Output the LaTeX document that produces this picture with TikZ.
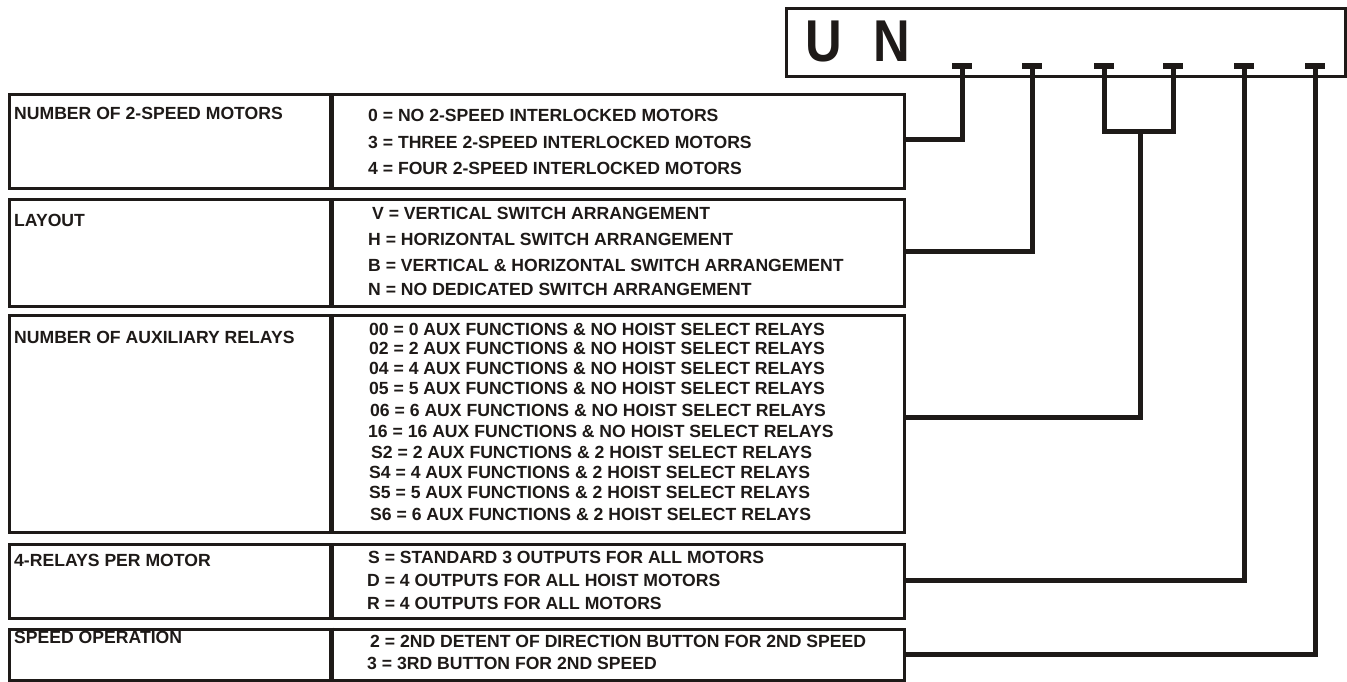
\documentclass[tikz,border=0pt]{standalone}
\usepackage{fontspec}
\setmainfont{Liberation Sans}
\usetikzlibrary{calc}
\definecolor{ink}{HTML}{1E1A18}
\begin{document}
\begin{tikzpicture}[x=1pt,y=-1pt,
  catbox/.style={draw=ink, line width=3pt, minimum width=895pt, inner sep=0pt, anchor=north west},
  divider/.style={draw=ink, line width=5pt},
  conn/.style={draw=ink, line width=5pt, line join=miter},
  tbar/.style={draw=ink, line width=6pt},
  lbl/.style={anchor=west, inner sep=0pt, text height=12.6pt, text depth=0pt, font=\fontsize{17.6}{20}\selectfont\bfseries, text=ink},
  hdrtext/.style={anchor=west, inner sep=0pt, text height=42pt, text depth=0pt, font=\fontsize{59}{60}\selectfont\bfseries, text=ink}
]
\useasboundingbox[fill=white] (0,0) rectangle (1347,681);

% header
\node[draw=ink, line width=3pt, minimum width=559pt, minimum height=68pt, inner sep=0pt, anchor=north west] (hdr) at (785,7) {};
\node[hdrtext] (code) at (805,40) {\scalebox{0.86}[1]{U\hspace{37pt}N}};

% terminals
\coordinate (t1) at (962,66);
\coordinate (t2) at (1032,66);
\coordinate (t3) at (1104,66);
\coordinate (t4) at (1173,66);
\coordinate (t5) at (1244,66);
\coordinate (t6) at (1315,66);
\coordinate (bk) at (1140,131);

% boxes
\node[catbox, minimum height=94pt] (b1) at (8,93) {};
\node[catbox, minimum height=107pt] (b2) at (8,198) {};
\node[catbox, minimum height=217pt] (b3) at (8,314) {};
\node[catbox, minimum height=74pt] (b4) at (8,543) {};
\node[catbox, minimum height=51.5pt] (b5) at (8,627.5) {};

\foreach \b in {b1,b2,b3,b4,b5}{
  \draw[divider] ($(\b.north west)+(323,0)$) -- ($(\b.south west)+(323,0)$);
}

% box 1
\node[lbl] (l1) at (14,113) {NUMBER OF 2-SPEED MOTORS};
\node[lbl] (r11) at (368,115) {0 = NO 2-SPEED INTERLOCKED MOTORS};
\node[lbl] (r12) at (368,142) {3 = THREE 2-SPEED INTERLOCKED MOTORS};
\node[lbl] (r13) at (368,168) {4 = FOUR 2-SPEED INTERLOCKED MOTORS};

% box 2
\node[lbl] (l2) at (14,220) {LAYOUT};
\node[lbl] (r21) at (372,213) {V = VERTICAL SWITCH ARRANGEMENT};
\node[lbl] (r22) at (368,239) {H = HORIZONTAL SWITCH ARRANGEMENT};
\node[lbl] (r23) at (368,265) {B = VERTICAL \& HORIZONTAL SWITCH ARRANGEMENT};
\node[lbl] (r24) at (368,289) {N = NO DEDICATED SWITCH ARRANGEMENT};

% box 3
\node[lbl] (l3) at (14,337) {NUMBER OF AUXILIARY RELAYS};
\node[lbl] (r31) at (369,329) {00 = 0 AUX FUNCTIONS \& NO HOIST SELECT RELAYS};
\node[lbl] (r32) at (369,348) {02 = 2 AUX FUNCTIONS \& NO HOIST SELECT RELAYS};
\node[lbl] (r33) at (369,368) {04 = 4 AUX FUNCTIONS \& NO HOIST SELECT RELAYS};
\node[lbl] (r34) at (369,388) {05 = 5 AUX FUNCTIONS \& NO HOIST SELECT RELAYS};
\node[lbl] (r35) at (370,410) {06 = 6 AUX FUNCTIONS \& NO HOIST SELECT RELAYS};
\node[lbl] (r36) at (368,431) {16 = 16 AUX FUNCTIONS \& NO HOIST SELECT RELAYS};
\node[lbl] (r37) at (371,452) {S2 = 2 AUX FUNCTIONS \& 2 HOIST SELECT RELAYS};
\node[lbl] (r38) at (369,472) {S4 = 4 AUX FUNCTIONS \& 2 HOIST SELECT RELAYS};
\node[lbl] (r39) at (369,492) {S5 = 5 AUX FUNCTIONS \& 2 HOIST SELECT RELAYS};
\node[lbl] (r310) at (370,514) {S6 = 6 AUX FUNCTIONS \& 2 HOIST SELECT RELAYS};

% box 4
\node[lbl] (l4) at (14,560) {4-RELAYS PER MOTOR};
\node[lbl] (r41) at (368,557) {S = STANDARD 3 OUTPUTS FOR ALL MOTORS};
\node[lbl] (r42) at (367,580) {D = 4 OUTPUTS FOR ALL HOIST MOTORS};
\node[lbl] (r43) at (367,603) {R = 4 OUTPUTS FOR ALL MOTORS};

% box 5
\node[lbl] (l5) at (14,637) {SPEED OPERATION};
\node[lbl] (r51) at (370,641) {2 = 2ND DETENT OF DIRECTION BUTTON FOR 2ND SPEED};
\node[lbl] (r52) at (367,663) {3 = 3RD BUTTON FOR 2ND SPEED};

% connectors
\draw[conn] ($(b1.east)+(0,-2)$) -| (t1);
\draw[conn] ($(b2.east)+(0,-1.5)$) -| (t2);
\draw[conn] (t3) |- (bk) -| (t4);
\draw[conn] (bk) |- ($(b3.east)+(0,-6.5)$);
\draw[conn] ($(b4.east)+(0,-1)$) -| (t5);
\draw[conn] (b5.east) -| (t6);

% terminal bars
\foreach \t in {t1,t2,t3,t4,t5,t6}{
  \draw[tbar] ($(\t)+(-10,0)$) -- ($(\t)+(10,0)$);
}
\end{tikzpicture}
\end{document}
